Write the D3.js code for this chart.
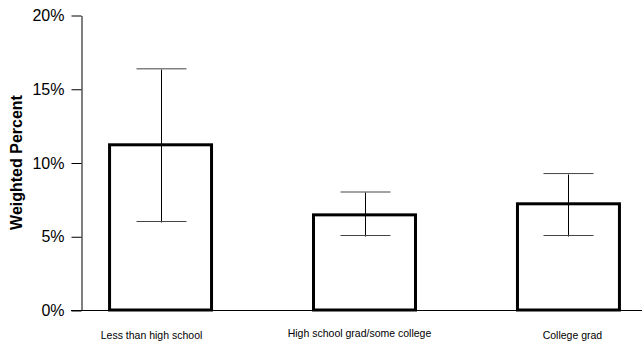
<!DOCTYPE html>
<html>
<head>
<meta charset="utf-8">
<script src="https://cdn.jsdelivr.net/npm/d3@7/dist/d3.min.js"></script>
<style>
  html, body { margin: 0; padding: 0; background: #fff; }
  svg { display: block; font-family: "Liberation Sans", Arial, sans-serif; }
</style>
</head>
<body>
<svg id="chart" width="642" height="341"></svg>
<script>
// Education level categories
const categories = ["Less than high school", "High school grad/some college", "College grad"];
// Weighted percent per category, with 95% confidence limits
const values = [11.2, 6.45, 7.2];
const lowerCI = [6.0, 5.05, 5.05];
const upperCI = [16.35, 8.0, 9.25];
// Y axis ticks
const yTicks = [0, 5, 10, 15, 20];

// Small horizontal nudges for the category labels
const labelNudge = [-9, -5, 4];
const labelDrop = [0, -1.5, 0];

const svg = d3.select("#chart");
const W = 642;
const plot = { left: 81, right: 648, top: 15, bottom: 310 };

const x = d3.scaleBand()
  .domain(categories)
  .range([plot.left, plot.right])
  .paddingInner(0.5)
  .paddingOuter(0.14);

const y = d3.scaleLinear()
  .domain([0, 20])
  .range([plot.bottom, plot.top]);

// X baseline, running from the 0% tick to the right edge
svg.append("line")
  .attr("x1", plot.left - 10).attr("x2", W)
  .attr("y1", y(0) + 0.5).attr("y2", y(0) + 0.5)
  .attr("stroke", "#000").attr("stroke-width", 1);

// Y axis
const yAxis = d3.axisLeft(y)
  .tickValues(yTicks)
  .tickFormat(d => d + "%")
  .tickSize(10)
  .tickPadding(7)
  .tickSizeOuter(0);

const gy = svg.append("g")
  .attr("transform", `translate(${plot.left + 0.5},0.5)`)
  .call(yAxis);
gy.select(".domain").attr("stroke", "#000");
gy.selectAll(".tick line").attr("stroke", "#000");
gy.selectAll(".tick text")
  .attr("fill", "#000")
  .style("font-size", "16px")
  .style("font-family", "'Liberation Sans', Arial, sans-serif");

// Y axis title
svg.append("text")
  .attr("transform", `translate(22,${(plot.top + plot.bottom) / 2}) rotate(-90)`)
  .attr("text-anchor", "middle")
  .style("font-size", "16px")
  .style("font-weight", "bold")
  .text("Weighted Percent");

// Bars
const data = categories.map((c, i) => ({ c, v: values[i], lo: lowerCI[i], hi: upperCI[i], i }));

svg.append("g").selectAll("rect")
  .data(data)
  .join("rect")
  .attr("x", d => x(d.c))
  .attr("y", d => y(d.v))
  .attr("width", x.bandwidth())
  .attr("height", d => y(0) - y(d.v))
  .attr("fill", "#fff")
  .attr("stroke", "#000")
  .attr("stroke-width", 3);

// Error bars
const cap = 25;
const eb = svg.append("g").attr("stroke", "#000").attr("stroke-width", 1);
data.forEach(d => {
  const cx = Math.round(x(d.c) + x.bandwidth() / 2) + 0.5;
  eb.append("line").attr("x1", cx).attr("x2", cx)
    .attr("y1", Math.round(y(d.hi)) + 0.5).attr("y2", Math.round(y(d.lo)) + 0.5);
  eb.append("line").attr("x1", cx - cap).attr("x2", cx + cap)
    .attr("y1", y(d.hi)).attr("y2", y(d.hi)).attr("stroke", "#444");
  eb.append("line").attr("x1", cx - cap).attr("x2", cx + cap)
    .attr("y1", y(d.lo)).attr("y2", y(d.lo)).attr("stroke", "#444");
});

// Category labels
svg.append("g").selectAll("text")
  .data(data)
  .join("text")
  .attr("x", d => x(d.c) + x.bandwidth() / 2 + labelNudge[d.i])
  .attr("y", d => 338.5 + labelDrop[d.i])
  .attr("text-anchor", "middle")
  .style("font-size", "10.5px")
  .attr("fill", "#000")
  .text(d => d.c);
</script>
</body>
</html>
